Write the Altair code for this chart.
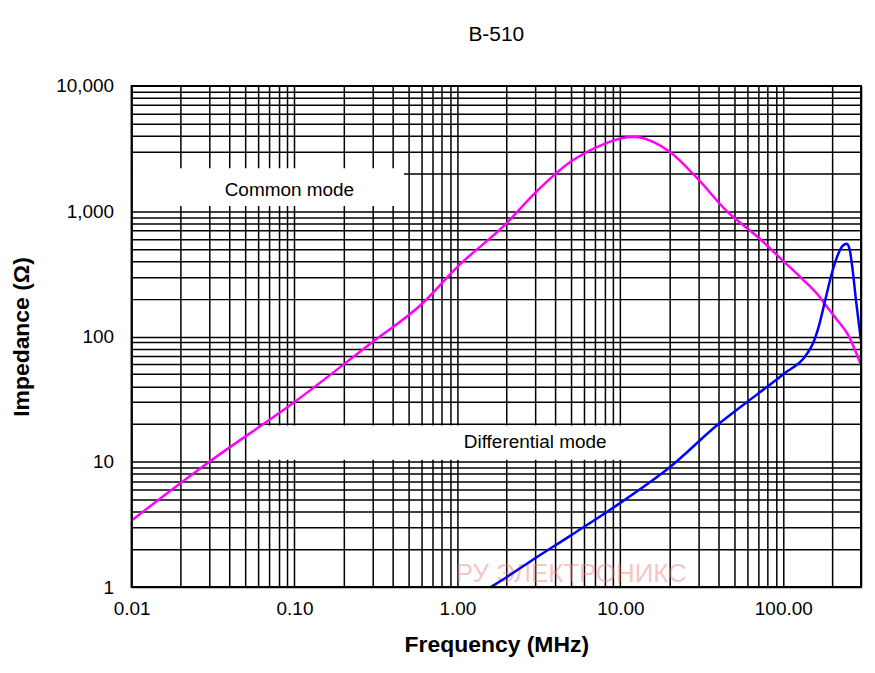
import altair as alt
import pandas as pd

cm_freq = [0.01, 0.03, 0.1, 0.3, 0.6, 1.0, 2.0, 3.0, 5.0, 8.0, 10.0, 12.0, 14.0, 16.0, 20.0, 30.0, 45.0, 70.0, 100.0, 130.0, 163.0, 178.0, 210.0, 250.0, 300.0]
cm_imp = [3.4, 10.0, 30.0, 90.0, 180.0, 360.0, 800.0, 1400.0, 2500.0, 3450.0, 3800.0, 3900.0, 3800.0, 3550.0, 3000.0, 1800.0, 1000.0, 620.0, 400.0, 290.0, 215.0, 185.0, 140.0, 103.0, 59.0]

dm_freq = [1.6, 2.0, 3.0, 5.0, 10.0, 20.0, 40.0, 70.0, 100.0, 141.0, 152.0, 165.0, 180.0, 200.0, 218.0, 232.0, 245.0, 255.0, 265.0, 280.0, 300.0]
dm_imp = [1.0, 1.2, 1.7, 2.6, 4.7, 9.0, 20.0, 35.0, 50.0, 74.0, 88.0, 120.0, 190.0, 330.0, 460.0, 530.0, 550.0, 500.0, 360.0, 190.0, 92.0]

x_ticks = [m * 10.0 ** e for e in range(-2, 3) for m in range(1, 10)] + [300]
y_ticks = [m * 10.0 ** e for e in range(0, 4) for m in range(1, 10)] + [10000]

cm = pd.DataFrame({"f": cm_freq, "z": cm_imp, "s": "Common mode"})
dm = pd.DataFrame({"f": dm_freq, "z": dm_imp, "s": "Differential mode"})

xs = alt.Scale(type="log", domain=[0.01, 300], nice=False)
ys = alt.Scale(type="log", domain=[1, 10000], nice=False)

is_decade = "abs(log(datum.value)/LN10 - round(log(datum.value)/LN10)) < 0.000001"

x_axis = alt.Axis(values=x_ticks, title="Frequency (MHz)", grid=True, gridColor="black", gridWidth=1.5,
                  gridOpacity=1, ticks=False, domain=False, labelFontSize=19, titleFontSize=23,
                  labelColor="black", titleColor="black", labelPadding=12, titlePadding=16,
                  labelFlush=False, labelOverlap=False,
                  labelExpr=is_decade + " ? format(datum.value, '.2f') : ''")
y_axis = alt.Axis(values=y_ticks, title="Impedance (Ω)", grid=True, gridColor="black", gridWidth=1.5,
                  gridOpacity=1, ticks=False, domain=False, labelFontSize=19, titleFontSize=23,
                  labelColor="black", titleColor="black", labelPadding=18, titlePadding=22,
                  labelFlush=False, labelOverlap=False,
                  labelExpr=is_decade + " ? format(datum.value, ',') : ''")

base = alt.Chart(pd.concat([cm, dm]))
lines = base.mark_line(strokeWidth=2.5, clip=True, interpolate="monotone").encode(
    x=alt.X("f:Q", scale=xs, axis=x_axis),
    y=alt.Y("z:Q", scale=ys, axis=y_axis),
    color=alt.Color("s:N", scale=alt.Scale(domain=["Common mode", "Differential mode"], range=["#ff00ff", "#0000ff"]), legend=None),
)

boxes = pd.DataFrame({"x1": [0.0102, 0.052], "x2": [0.47, 18.0], "y1": [1100, 10.4], "y2": [2200, 19.5],
                      "tx": [0.093, 3.0], "ty": [1480, 14.3], "t": ["Common  mode", "Differential  mode"]})
rects = alt.Chart(boxes).mark_rect(color="white").encode(
    x=alt.X("x1:Q", scale=xs), x2="x2", y=alt.Y("y1:Q", scale=ys), y2="y2")
texts = alt.Chart(boxes).mark_text(fontSize=19, font="Liberation Sans", color="black").encode(
    x=alt.X("tx:Q", scale=xs), y=alt.Y("ty:Q", scale=ys), text="t:N")

wm = pd.DataFrame({"x": [5.0], "y": [1.28], "t": ["РУ  ЭЛЕКТРОНИКС"]})
watermark = alt.Chart(wm).mark_text(fontSize=26, color="#f08080", opacity=0.45, font="Liberation Sans").encode(
    x=alt.X("x:Q", scale=xs), y=alt.Y("y:Q", scale=ys), text="t:N")

frame = alt.Chart(pd.DataFrame({"a": [0]})).mark_rect(fill=None, stroke="black", strokeWidth=2).encode(
    x=alt.value(0), x2=alt.value(732), y=alt.value(0), y2=alt.value(503))

chart = alt.layer(rects, texts, watermark, lines, frame).properties(
    width=732, height=503,
    padding={"left": 2, "top": 15, "right": 5, "bottom": 5},
    title=alt.Title("B-510", fontSize=21, fontWeight="normal", font="Liberation Sans", offset=32),
).configure(font="Liberation Sans").configure_view(stroke=None).configure_axis(
    labelFont="Liberation Sans", titleFont="Liberation Sans", titleFontWeight="bold")

chart.save("out.html", embed_options={"renderer": "svg", "actions": False})
